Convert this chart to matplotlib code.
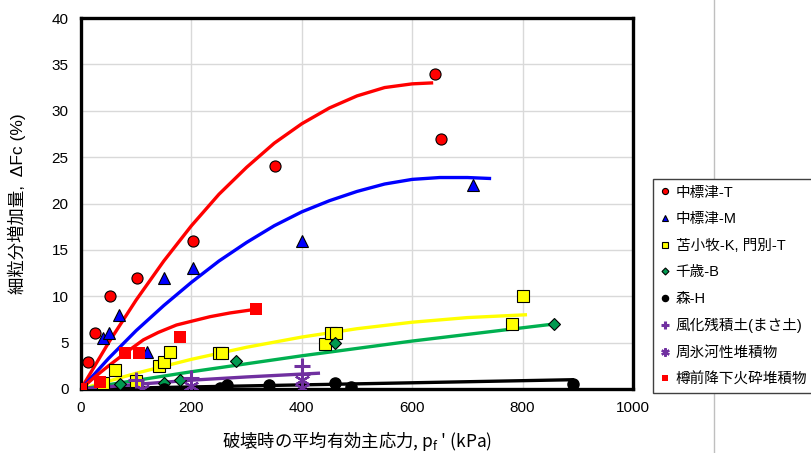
import matplotlib
matplotlib.use("Agg")
import matplotlib.pyplot as plt
from matplotlib.lines import Line2D

plt.rcParams["font.family"] = ["Liberation Sans", "Noto Sans CJK JP", "DejaVu Sans"]

# --- measured points (x: kPa, y: %) ---
t_x = [0, 12, 26, 52, 102, 202, 351, 641, 652]
t_y = [0, 2.9, 6.0, 10.0, 12.0, 16.0, 24.0, 34.0, 27.0]

m_x = [0, 40, 51, 69, 120, 151, 202, 401, 710]
m_y = [0, 5.5, 6.0, 8.0, 4.0, 12.0, 13.0, 16.0, 22.0]

k_x = [0, 40, 62, 100, 141, 151, 161, 250, 256, 442, 452, 462, 780, 800]
k_y = [0, 0.7, 2.0, 0.9, 2.5, 2.9, 4.0, 3.9, 3.9, 4.9, 6.0, 6.0, 7.0, 10.0]

b_x = [0, 70, 151, 180, 280, 460, 856]
b_y = [0, 0.5, 0.7, 1.0, 3.0, 5.0, 7.0]

h_x = [0, 150, 252, 264, 340, 460, 490, 891]
h_y = [0, 0.0, 0.1, 0.4, 0.4, 0.6, 0.2, 0.55]

masa_x = [100, 200, 400, 400]
masa_y = [1.0, 1.2, 2.5, 1.6]

peri_x = [110, 200, 400, 400]
peri_y = [0.0, 0.3, 1.0, 0.1]

tar_x = [0, 35, 80, 105, 179, 317]
tar_y = [0, 0.8, 3.9, 3.9, 5.6, 8.6]

# --- trend curves ---
t_cx = [0, 50, 100, 150, 200, 250, 300, 350, 400, 450, 500, 550, 600, 635]
t_cy = [0, 5.0, 9.6, 13.8, 17.6, 21.0, 23.9, 26.5, 28.6, 30.3, 31.6, 32.5, 32.9, 33.0]

m_cx = [0, 50, 100, 150, 200, 250, 300, 350, 400, 450, 500, 550, 600, 650, 700, 740]
m_cy = [0, 3.3, 6.3, 9.0, 11.5, 13.8, 15.8, 17.6, 19.1, 20.3, 21.3, 22.1, 22.6, 22.8, 22.8, 22.7]

k_cx = [0, 100, 200, 300, 400, 500, 600, 700, 805]
k_cy = [0, 1.7, 3.2, 4.5, 5.6, 6.5, 7.2, 7.7, 8.0]

b_cx = [0, 200, 400, 600, 856]
b_cy = [0, 1.86, 3.58, 5.17, 7.0]

h_cx = [0, 450, 890]
h_cy = [0, 0.5, 1.0]

masa_cx = [0, 100, 200, 300, 430]
masa_cy = [0, 0.5, 0.95, 1.3, 1.7]

tar_cx = [0, 25, 50, 83, 113, 140, 173, 200, 234, 270, 317]
tar_cy = [0, 1.3, 2.5, 4.0, 5.3, 6.1, 6.9, 7.3, 7.8, 8.2, 8.6]

RED = "#FF0000"
BLUE = "#0000FF"
YEL = "#FFFF00"
GRN = "#00B050"
DGRN = "#009A50"
PUR = "#7030A0"

W, H = 812, 453
fig = plt.figure(figsize=(W / 100, H / 100), dpi=100)
ax = fig.add_axes([81 / W, 1 - 389 / H, (633 - 81) / W, (389 - 18) / H])

# trend lines
lw = 2.4
ax.plot(t_cx, t_cy, color=RED, lw=lw, zorder=3)
ax.plot(m_cx, m_cy, color=BLUE, lw=lw, zorder=3)
ax.plot(k_cx, k_cy, color=YEL, lw=lw, zorder=3)
ax.plot(b_cx, b_cy, color=GRN, lw=lw, zorder=3)
ax.plot(h_cx, h_cy, color="black", lw=lw, zorder=3)
ax.plot(masa_cx, masa_cy, color=PUR, lw=lw, zorder=3)
ax.plot(tar_cx, tar_cy, color=RED, lw=lw, zorder=3)

# markers
ms = 8
kw = dict(linestyle="none", zorder=4)
ax.plot(t_x, t_y, marker="o", ms=ms, mfc=RED, mec="black", mew=0.8, label="中標津-T", **kw)
ax.plot(m_x, m_y, marker="^", ms=ms, mfc=BLUE, mec="black", mew=0.8, label="中標津-M", **kw)
ax.plot(k_x, k_y, marker="s", ms=ms, mfc=YEL, mec="black", mew=0.8, label="苫小牧-K, 門別-T", **kw)
ax.plot(b_x, b_y, marker="D", ms=6.5, mfc=DGRN, mec="black", mew=0.8, label="千歳-B", **kw)
ax.plot(h_x, h_y, marker="o", ms=ms, mfc="black", mec="black", label="森-H", **kw)
ax.plot(masa_x, masa_y, marker="+", ms=11, mec=PUR, mew=2.2, label="風化残積土(まさ土)", **kw)
ax.plot(peri_x, peri_y, marker=(6, 2, 0), ms=11, mec=PUR, mew=1.6, label="周氷河性堆積物", **kw)
ax.plot(tar_x, tar_y, marker="s", ms=ms, mfc=RED, mec=RED, mew=0, label="樽前降下火砕堆積物", **kw)

ax.set_xlim(0, 1000)
ax.set_ylim(0, 40)
ax.set_xticks(range(0, 1001, 200))
ax.set_yticks(range(0, 41, 5))
ax.grid(True, color="#D9D9D9", lw=1)
ax.set_axisbelow(True)
ax.tick_params(length=0, labelsize=11, pad=9)
for s in ax.spines.values():
    s.set_linewidth(2.4)
    s.set_color("black")

ax.set_xlabel("破壊時の平均有効主応力, p$_\\mathregular{f}$ ' (kPa)", fontsize=12.5,
              labelpad=10, family="Noto Sans CJK JP")
ax.set_ylabel("細粒分増加量,  ΔFc (%)", fontsize=12.5, labelpad=18)

# thin grey divider line on the right
fig.add_artist(Line2D([714 / W, 714 / W], [0, 1], color="#BFBFBF", lw=1))

handles, labels = ax.get_legend_handles_labels()
leg = fig.legend(handles, labels, loc="upper left",
                 bbox_to_anchor=(653 / W, 1 - 179 / H), borderaxespad=0,
                 fontsize=10.5, markerscale=0.55, handlelength=0.7,
                 handletextpad=0.4, labelspacing=0.86, borderpad=0.45,
                 fancybox=False, framealpha=1, edgecolor="#404040")
leg.get_frame().set_linewidth(1.0)

fig.savefig("out.png", dpi=100)
